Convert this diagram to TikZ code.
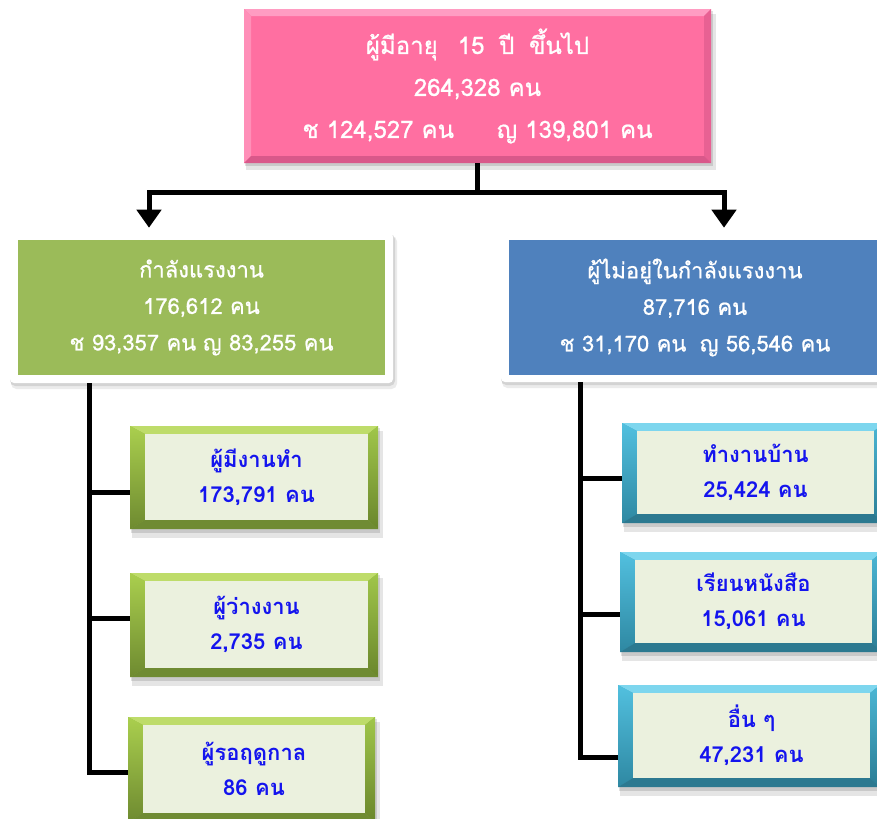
\documentclass[tikz,border=0pt]{standalone}
\usepackage{fontspec}
\setmainfont[Script=Thai]{Loma}
\newfontfamily\hdrfont[Script=Thai,FakeBold=0.8]{Loma}
\usetikzlibrary{arrows.meta,calc}
\definecolor{pinkf}{HTML}{FF6FA1}
\definecolor{pinkl}{HTML}{FF9CC2}
\definecolor{pinkd}{HTML}{D9588A}
\definecolor{greenH}{HTML}{9BBB59}
\definecolor{blueH}{HTML}{4F81BD}
\definecolor{facec}{HTML}{EBF1DE}
\definecolor{txtblue}{HTML}{1414EE}
% green bevel
\definecolor{gmid}{HTML}{8DB040}
\definecolor{gtop}{HTML}{BEDC6A}
\definecolor{glt}{HTML}{AACF4E}
\definecolor{glb}{HTML}{6E8A30}
\definecolor{grt}{HTML}{A0C64A}
\definecolor{grb}{HTML}{6A862C}
\definecolor{gbot}{HTML}{6F8B33}
% blue bevel
\definecolor{bmid}{HTML}{3FA7C4}
\definecolor{btop}{HTML}{7DD6EE}
\definecolor{blt}{HTML}{52C0DF}
\definecolor{blb}{HTML}{2E88A2}
\definecolor{brt}{HTML}{4BB6D4}
\definecolor{brb}{HTML}{2B7D95}
\definecolor{bbot}{HTML}{2C7990}
\tikzset{
  conn/.style={line width=3.75pt,black},
  arrowconn/.style={conn,-{Triangle[width=18pt,length=13.5pt]},shorten >=3.75pt},
  hdrtext/.style={text=white,align=center,inner sep=0pt,
     font=\hdrfont\fontsize{16.5pt}{27.4pt}\selectfont},
  toptext/.style={text=white,align=center,inner sep=0pt,
     font=\hdrfont\fontsize{18pt}{31.5pt}\selectfont},
  subface/.style={fill=facec,text=txtblue,align=center,inner sep=0pt,
     font=\fontsize{16.5pt}{26pt}\selectfont\bfseries},
}
% #1 name, #2 x1, #3 y1, #4 x2, #5 y2, #6 scheme (g or b), #7 text
\newcommand\bevbox[7]{%
  \fill[black,opacity=0.10] (#2+2,#3+5) rectangle (#4+5,#5+9);
  \fill[black,opacity=0.12] (#2+1,#3+2) rectangle (#4+2,#5+4);
  \node[inner sep=0pt,minimum width={0.75pt*(#4-#2)},minimum height={0.75pt*(#5-#3)},fill=#6mid] (#1) at ({(#2+#4)/2},{(#3+#5)/2}) {};
  \fill[#6top] (#2,#3) -- (#4,#3) -- (#4-10,#3+8) -- (#2+15,#3+8) -- cycle;
  \shade[top color=#6lt,bottom color=#6lb] (#2,#3) -- (#2+15,#3+8) -- (#2+15,#5-9) -- (#2,#5) -- cycle;
  \shade[top color=#6rt,bottom color=#6rb] (#4,#3) -- (#4,#5) -- (#4-10,#5-9) -- (#4-10,#3+8) -- cycle;
  \fill[#6bot] (#2,#5) -- (#4,#5) -- (#4-10,#5-9) -- (#2+15,#5-9) -- cycle;
  \node[subface,minimum width={0.75pt*(#4-#2-25)},minimum height={0.75pt*(#5-#3-17)}] (#1-f) at ({(#2+15+#4-10)/2},{(#3+8+#5-9)/2}) {#7};
}
\begin{document}
\begin{tikzpicture}[x=0.75pt,y=-0.75pt]
\useasboundingbox[fill=white] (0,0) rectangle (877,818);

% ---------- top pink box ----------
\fill[black,opacity=0.10] (246,14) rectangle (716,170);
\fill[black,opacity=0.12] (245,11) rectangle (713,166);
\node[inner sep=0pt,minimum width={0.75pt*467},minimum height={0.75pt*154},fill=pinkf] (top) at (477.5,86) {};
\fill[pinkl] (244,9) -- (711,9) -- (704,16) -- (251,16) -- cycle;
\fill[pinkl!70!pinkf] (244,9) -- (251,16) -- (251,156) -- (244,163) -- cycle;
\fill[pinkd!60!pinkf] (711,9) -- (711,163) -- (704,156) -- (704,16) -- cycle;
\fill[pinkd] (244,163) -- (711,163) -- (704,156) -- (251,156) -- cycle;
\node[toptext] (top-t) at (477.5,86) {ผู้มีอายุ\hspace{15pt}15\hspace{11pt}ปี\hspace{11pt}ขึ้นไป\\264,328 คน\\ช 124,527 คน\hspace{32pt}ญ 139,801 คน};

% ---------- header boxes ----------
\fill[black,opacity=0.08,rounded corners=4pt] (11,236) rectangle (397,389);
\fill[black,opacity=0.10,rounded corners=4pt] (10,234) rectangle (395,386);
\node[fill=white,rounded corners=3pt,inner sep=0pt,minimum width={0.75pt*383},minimum height={0.75pt*150}] (lab) at (201.5,308) {};
\node[fill=greenH,hdrtext,minimum width={0.75pt*367},minimum height={0.75pt*135}] (lab-in) at (201.5,307.5) {กำลังแรงงาน\\176,612 คน\\ช 93,357 คน\hspace{5pt}ญ 83,255 คน};

\fill[black,opacity=0.08,rounded corners=4pt] (502,236) rectangle (893,388);
\fill[black,opacity=0.10,rounded corners=4pt] (501,234) rectangle (891,385);
\node[fill=white,rounded corners=3pt,inner sep=0pt,minimum width={0.75pt*388},minimum height={0.75pt*149}] (nlab) at (695,307.5) {};
\node[fill=blueH,hdrtext,minimum width={0.75pt*372},minimum height={0.75pt*135}] (nlab-in) at (695,307.5) {ผู้ไม่อยู่ในกำลังแรงงาน\\87,716 คน\\ช 31,170 คน\hspace{10pt}ญ 56,546 คน};

% ---------- connectors from top ----------
\coordinate (al) at (149,192);
\coordinate (ar) at (724,192);
\draw[conn] (top.south) -- (top.south |- al);
\draw[conn,line cap=rect] (al) -- (ar);
\draw[arrowconn] (al) -- (al |- lab.north);
\draw[arrowconn] (ar) -- (ar |- nlab.north);

% ---------- sub boxes ----------
\bevbox{s1}{130}{426}{378}{529}{g}{ผู้มีงานทำ\\173,791 คน}
\bevbox{s2}{130}{573}{378}{677}{g}{ผู้ว่างงาน\\2,735 คน}
\bevbox{s3}{128}{717}{375}{822}{g}{ผู้รอฤดูกาล\\86 คน}
\bevbox{r1}{622}{423}{884}{523}{b}{ทำงานบ้าน\\25,424 คน}
\bevbox{r2}{620}{552}{882}{652}{b}{เรียนหนังสือ\\15,061 คน}
\bevbox{r3}{618}{685}{880}{787}{b}{อื่น ๆ\\47,231 คน}

% ---------- tree connectors ----------
\coordinate (tlx) at (89,0);
\coordinate (lb1) at (0,492);
\coordinate (lb2) at (0,618);
\coordinate (lb3) at (0,772);
\draw[conn] (lab.south -| tlx) -- (tlx |- lb3) -- (s3.west |- lb3);
\draw[conn] (tlx |- lb1) -- (s1.west |- lb1);
\draw[conn] (tlx |- lb2) -- (s2.west |- lb2);

\coordinate (trx) at (580,0);
\coordinate (rb1) at (0,478);
\coordinate (rb2) at (0,614);
\coordinate (rb3) at (0,757);
\draw[conn] (nlab.south -| trx) -- (trx |- rb3) -- (r3.west |- rb3);
\draw[conn] (trx |- rb1) -- (r1.west |- rb1);
\draw[conn] (trx |- rb2) -- (r2.west |- rb2);
\end{tikzpicture}
\end{document}
